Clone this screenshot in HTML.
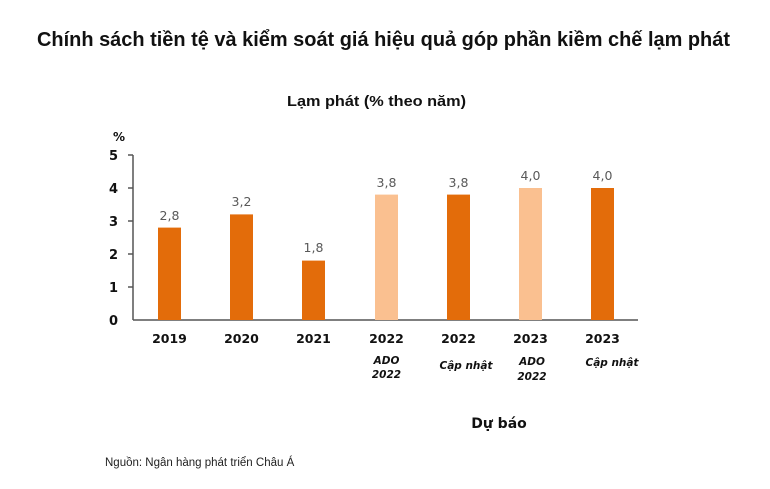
<!DOCTYPE html>
<html><head><meta charset="utf-8"><style>
body{margin:0;background:#fff;width:770px;height:489px;overflow:hidden}
svg{display:block}
</style></head><body>
<svg width="770" height="489" xmlns="http://www.w3.org/2000/svg" font-family="'DejaVu Sans','Liberation Sans',sans-serif">
<text x="37" y="46" font-size="20" font-weight="bold" fill="#111" font-family="'Liberation Sans',sans-serif" textLength="693" lengthAdjust="spacingAndGlyphs">Chính sách tiền tệ và kiểm soát giá hiệu quả góp phần kiềm chế lạm phát</text>
<text x="287" y="106" font-size="15" font-weight="bold" fill="#111" font-family="'Liberation Sans',sans-serif" textLength="179" lengthAdjust="spacingAndGlyphs">Lạm phát (% theo năm)</text>
<text x="113" y="141" font-size="12" font-weight="bold" fill="#111">%</text>
<g font-size="13" font-weight="bold" fill="#111" text-anchor="end">
<text x="118" y="160">5</text><text x="118" y="193">4</text><text x="118" y="226">3</text><text x="118" y="259">2</text><text x="118" y="292">1</text><text x="118" y="325">0</text>
</g>
<g stroke="#555" stroke-width="1.5">
<line x1="133" y1="155" x2="133" y2="320"/><line x1="133" y1="320" x2="638" y2="320"/>
<line x1="128" y1="155" x2="133" y2="155"/><line x1="128" y1="188" x2="133" y2="188"/><line x1="128" y1="221" x2="133" y2="221"/><line x1="128" y1="254" x2="133" y2="254"/><line x1="128" y1="287" x2="133" y2="287"/>
</g>
<g>
<rect x="158" y="227.6" width="23" height="92.4" fill="#E36C0A"/>
<rect x="230" y="214.4" width="23" height="105.6" fill="#E36C0A"/>
<rect x="302" y="260.6" width="23" height="59.4" fill="#E36C0A"/>
<rect x="375" y="194.6" width="23" height="125.4" fill="#FAC090"/>
<rect x="447" y="194.6" width="23" height="125.4" fill="#E36C0A"/>
<rect x="519" y="188" width="23" height="132" fill="#FAC090"/>
<rect x="591" y="188" width="23" height="132" fill="#E36C0A"/>
</g>
<g font-size="12.5" fill="#595959" text-anchor="middle">
<text x="169.5" y="220">2,8</text><text x="241.5" y="206">3,2</text><text x="313.5" y="252">1,8</text>
<text x="386.5" y="187">3,8</text><text x="458.5" y="187">3,8</text><text x="530.5" y="180">4,0</text><text x="602.5" y="180">4,0</text>
</g>
<g font-size="12.5" font-weight="bold" fill="#111" text-anchor="middle">
<text x="169.5" y="343">2019</text><text x="241.5" y="343">2020</text><text x="313.5" y="343">2021</text>
<text x="386.5" y="343">2022</text><text x="458.5" y="343">2022</text><text x="530.5" y="343">2023</text><text x="602.5" y="343">2023</text>
</g>
<g font-size="10.5" font-weight="bold" font-style="italic" fill="#111" text-anchor="middle">
<text x="386.5" y="364">ADO</text><text x="386.5" y="378">2022</text>
<text x="466" y="369">Cập nhật</text>
<text x="532" y="365">ADO</text><text x="532" y="380">2022</text>
<text x="612" y="366">Cập nhật</text>
</g>
<text x="499" y="428" font-size="14" font-weight="bold" text-anchor="middle" fill="#111">Dự báo</text>
<text x="105" y="466" font-size="11.5" fill="#222" font-family="'Liberation Sans',sans-serif">Nguồn: Ngân hàng phát triển Châu Á</text>
</svg>
</body></html>
